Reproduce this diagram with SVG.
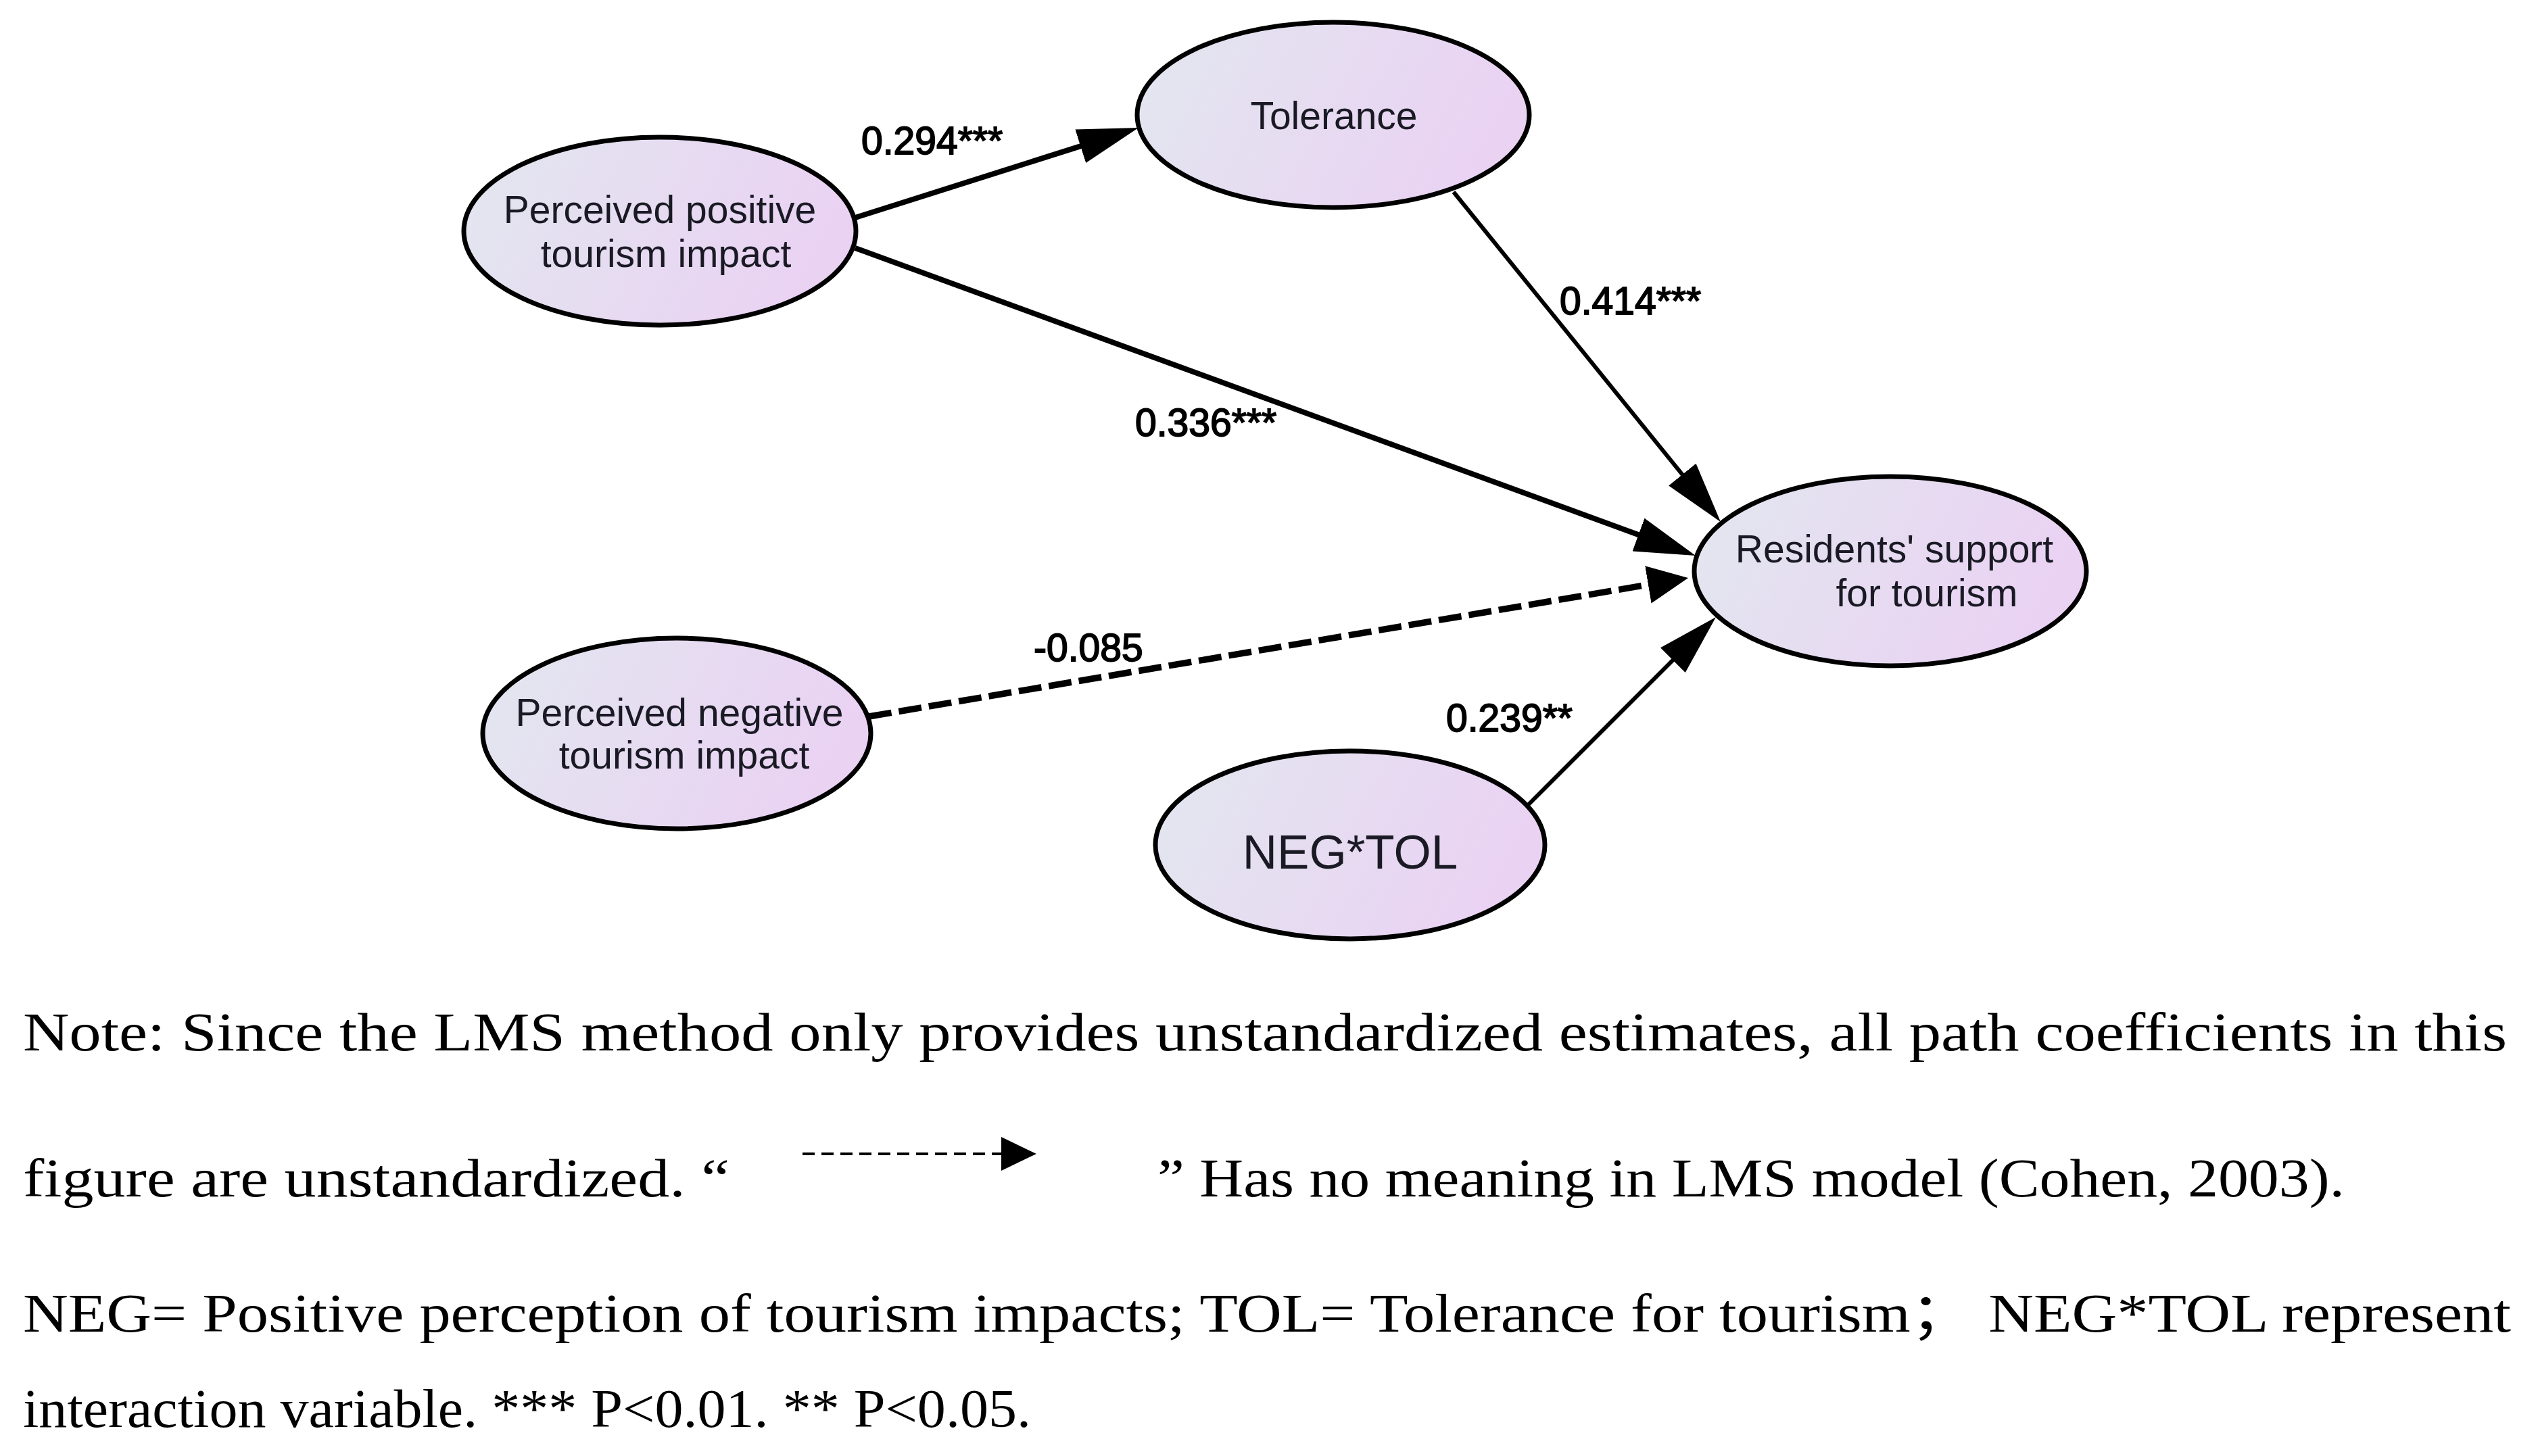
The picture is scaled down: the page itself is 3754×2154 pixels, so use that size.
<svg xmlns="http://www.w3.org/2000/svg" width="3754" height="2154" viewBox="0 0 3754 2154">
  <defs>
    <linearGradient id="nodeFill" x1="0" y1="0" x2="1" y2="0.25">
      <stop offset="0" stop-color="#e2e7ef"/>
      <stop offset="1" stop-color="#ead2f3"/>
    </linearGradient>
    <marker id="arrow" markerUnits="userSpaceOnUse" markerWidth="90" markerHeight="52" viewBox="0 0 90 52" refX="60" refY="26" orient="auto">
      <path d="M0,0 L90,26 L0,52 Z" fill="#000"/>
    </marker>
    <marker id="arrowDash" markerUnits="userSpaceOnUse" markerWidth="60" markerHeight="56" viewBox="0 0 60 56" refX="40" refY="28" orient="auto">
      <path d="M0,0 L60,28 L0,56 Z" fill="#000"/>
    </marker>
    <marker id="arrowLegend" markerUnits="userSpaceOnUse" markerWidth="52" markerHeight="50" viewBox="0 0 52 50" refX="32" refY="25" orient="auto">
      <path d="M0,0 L52,25 L0,50 Z" fill="#000"/>
    </marker>
    <style>
      .node { fill: url(#nodeFill); stroke: #000; stroke-width: 7; }
      .nlabel { font-family: "Liberation Sans", Arial, sans-serif; font-size: 57px; fill: #1a1a24; text-anchor: middle; }
      .edge { fill: none; stroke: #000; stroke-linecap: butt; }
      .thick { stroke-width: 8; }
      .thin { stroke-width: 6; }
      .dashed { stroke-width: 9.5; stroke-dasharray: 34 11; }
      .elabel { font-family: "Liberation Sans", Arial, sans-serif; font-size: 57px; fill: #000; stroke: #000; stroke-width: 1.8; }
      .note { font-family: "Liberation Serif", "Times New Roman", "Noto Sans CJK SC", serif; font-size: 80px; fill: #000; }
    </style>
  </defs>
  <rect width="3754" height="2154" fill="#fff"/>

  <g id="connectors">
    <line class="edge thick" x1="1265" y1="322" x2="1655.4" y2="198.1" marker-end="url(#arrow)"/>
    <line class="edge thick" x1="1265" y1="367" x2="2479.8" y2="811.7" marker-end="url(#arrow)"/>
    <line class="edge thin" x1="2150" y1="284" x2="2526.1" y2="748.7" marker-end="url(#arrow)"/>
    <line class="edge dashed" x1="1285" y1="1060" x2="2477.3" y2="858.3" marker-end="url(#arrowDash)"/>
    <line class="edge thin" x1="2261" y1="1190" x2="2516.8" y2="934.2" marker-end="url(#arrow)"/>
    <g id="edge-labels">
      <text class="elabel" x="1274" y="228">0.294***</text>
      <text class="elabel" x="2307" y="465">0.414***</text>
      <text class="elabel" x="1679" y="645">0.336***</text>
      <text class="elabel" x="1529" y="978">-0.085</text>
      <text class="elabel" x="2139" y="1082">0.239**</text>
    </g>
  </g>

  <g id="node-positive">
    <ellipse class="node" cx="976" cy="342" rx="290" ry="139"/>
    <text class="nlabel" x="976" y="330">Perceived positive</text>
    <text class="nlabel" x="985" y="395">tourism impact</text>
  </g>
  <g id="node-tolerance">
    <ellipse class="node" cx="1972" cy="170" rx="290" ry="137"/>
    <text class="nlabel" x="1973" y="191">Tolerance</text>
  </g>
  <g id="node-support">
    <ellipse class="node" cx="2796" cy="845" rx="290" ry="140"/>
    <text class="nlabel" x="2802" y="832">Residents' support</text>
    <text class="nlabel" x="2850" y="897">for tourism</text>
  </g>
  <g id="node-negative">
    <ellipse class="node" cx="1001" cy="1085" rx="287" ry="141"/>
    <text class="nlabel" x="1005" y="1074">Perceived negative</text>
    <text class="nlabel" x="1012" y="1137">tourism impact</text>
  </g>
  <g id="node-negtol">
    <ellipse class="node" cx="1997" cy="1250" rx="288" ry="139"/>
    <text class="nlabel" x="1997" y="1285" style="font-size:71px">NEG*TOL</text>
  </g>

  <g id="note">
    <text class="note" x="34" y="1554" textLength="3674" lengthAdjust="spacingAndGlyphs">Note: Since the LMS method only provides unstandardized estimates, all path coefficients in this</text>
    <text class="note" x="34" y="1770" textLength="1045" lengthAdjust="spacingAndGlyphs">figure are unstandardized. “</text>
    <line x1="1187" y1="1707" x2="1513" y2="1707" stroke="#000" stroke-width="4" stroke-dasharray="18 10" marker-end="url(#arrowLegend)"/>
    <text class="note" x="1712" y="1770" textLength="1756" lengthAdjust="spacingAndGlyphs">” Has no meaning in LMS model (Cohen, 2003).</text>
    <text class="note" x="34" y="1970" textLength="3680" lengthAdjust="spacingAndGlyphs">NEG= Positive perception of tourism impacts; TOL= Tolerance for tourism； NEG*TOL represent</text>
    <text class="note" x="34" y="2111" textLength="1491" lengthAdjust="spacingAndGlyphs">interaction variable. *** P&lt;0.01. ** P&lt;0.05.</text>
  </g>
</svg>
